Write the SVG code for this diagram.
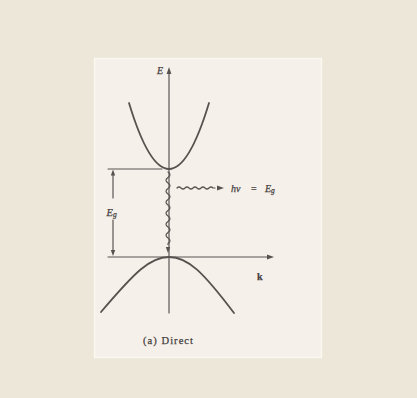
<svg xmlns="http://www.w3.org/2000/svg" width="417" height="398" viewBox="0 0 417 398">
<style>
.ln{fill:none;stroke:#5a5552;stroke-width:1.2;stroke-linecap:round}
.cv{fill:none;stroke:#57524f;stroke-width:1.8;stroke-linecap:round}
.ah{fill:#57524f;stroke:none}
.t{font-family:"Liberation Serif","Times New Roman",serif;fill:#45413f;stroke:#45413f;stroke-width:0.25}
.it{font-style:italic}
</style>
<rect x="0" y="0" width="417" height="398" fill="#ede7d9"/>
<rect x="94.5" y="58.5" width="227" height="299" fill="#f6f0ea" stroke="#fbf8f0" stroke-width="1.5"/>
<g id="connectors">
<line class="ln" x1="169" y1="72" x2="169" y2="313"/>
<polygon class="ah" points="169,67 166.6,74 171.4,74"/>
<line class="ln" x1="108" y1="257" x2="268" y2="257"/>
<polygon class="ah" points="274,257 267,254.6 267,259.4"/>
<line class="ln" x1="108" y1="169" x2="162" y2="169"/>
<line class="ln" x1="113" y1="174" x2="113" y2="198"/>
<line class="ln" x1="113" y1="220" x2="113" y2="250"/>
<polygon class="ah" points="113,169.5 110.8,175.5 115.2,175.5"/>
<polygon class="ah" points="113,256 110.8,250 115.2,250"/>
<path class="ln" d="M168,172 q4,2.75 0,5.5 q-4,2.75 0,5.5 q4,2.75 0,5.5 q-4,2.75 0,5.5 q4,2.75 0,5.5 q-4,2.75 0,5.5 q4,2.75 0,5.5 q-4,2.75 0,5.5 q4,2.75 0,5.5 q-4,2.75 0,5.5 q4,2.75 0,5.5 q-4,2.75 0,5.5 q4,2.75 0,5.5 l0,1"/>
<polygon class="ah" points="168,253 165.8,247 170.2,247"/>
<path class="ln" d="M177,188 q2,-2 4,0 q2,2 4,0 q2,-2 4,0 q2,2 4,0 q2,-2 4,0 q2,2 4,0 q2,-2 4,0 q2,2 4,0 q2,-2 4,0 l2,0"/>
<polygon class="ah" points="224,188 217,185.6 217,190.4"/>
</g>
<g id="conduction-band">
<path class="cv" d="M129,103 Q169,235 209,103"/>
</g>
<g id="valence-band">
<path class="cv" d="M101,312 C135,272 150,257 169,257 C188,257 203,272 234,313"/>
</g>
<g id="labels">
<text class="t it" x="157" y="74" font-size="10">E</text>
<text class="t" x="257" y="280" font-size="10" font-weight="bold">k</text>
<text class="t it" x="106.5" y="215.5" font-size="10.5">E<tspan font-size="7.5" dy="1.5">g</tspan></text>
<text class="t it" x="231" y="191.5" font-size="10">hν</text>
<text class="t" x="251" y="191.5" font-size="10">=</text>
<text class="t it" x="265" y="191.5" font-size="10">E<tspan font-size="7.5" dy="1.5">g</tspan></text>
<text class="t" x="143" y="343.5" font-size="10.5" textLength="50" lengthAdjust="spacing">(a) Direct</text>
</g>
</svg>
